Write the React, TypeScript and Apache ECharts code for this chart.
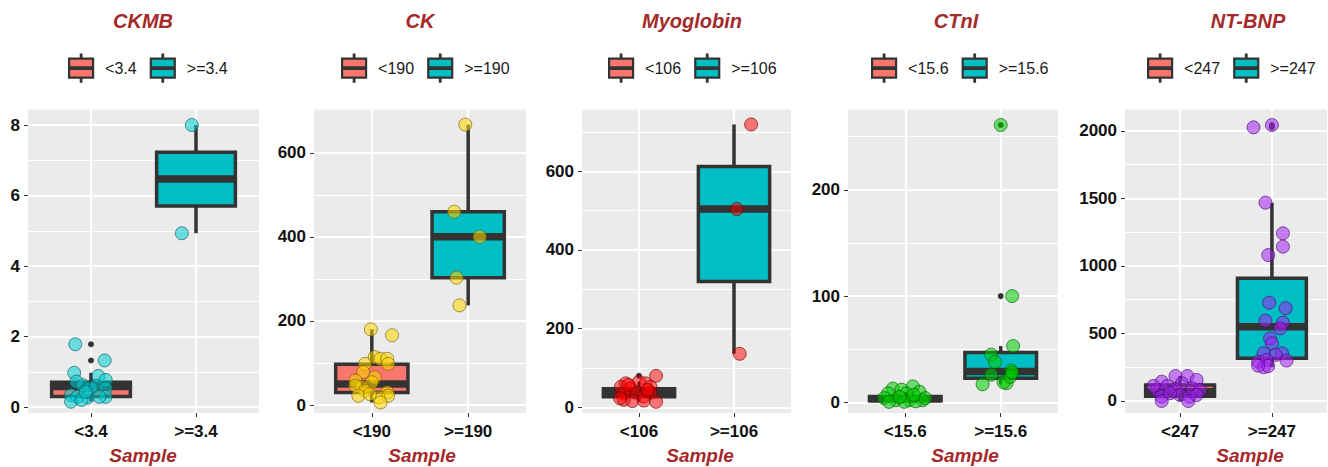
import React, { useEffect, useRef } from 'react';
import * as echarts from 'echarts';

const FONT = '"Liberation Sans", Arial, Helvetica, sans-serif';

// ---------- data ----------
const panelTitles = ['CKMB', 'CK', 'Myoglobin', 'CTnI', 'NT-BNP'];
const axisTitle = 'Sample';

const ckmbGroups = ['<3.4', '>=3.4'];
const ckGroups = ['<190', '>=190'];
const myoGroups = ['<106', '>=106'];
const ctniGroups = ['<15.6', '>=15.6'];
const bnpGroups = ['<247', '>=247'];

// box stats: [lower whisker, Q1, median, Q3, upper whisker]
const ckmbBoxes = [[0.15, 0.30, 0.58, 0.70, 0.97], [4.93, 5.70, 6.47, 7.23, 8.0]];
const ckBoxes = [[6, 30, 50, 97, 180], [237, 303, 400, 460, 667]];
const myoBoxes = [[14, 27, 37, 47, 65], [136, 320, 504, 612, 719]];
const ctniBoxes = [[0.3, 1.5, 3.5, 5.5, 10], [17, 22.75, 29, 47, 53]];
const bnpBoxes = [[0, 35, 68, 118, 185], [250, 316, 550, 909, 1469]];

// boxplot outliers per group
const ckmbOutliers = [[1.32, 1.78], []];
const ckOutliers = [[], []];
const myoOutliers = [[80], []];
const ctniOutliers = [[], [100, 261]];
const bnpOutliers = [[], [2027, 2044]];

// jittered points: [jitter, value]
const ckmbLowPoints = [
  [-0.15, 1.78], [0.13, 1.32], [-0.16, 0.97], [0.07, 0.88], [-0.14, 0.72], [0.14, 0.77],
  [-0.08, 0.62], [-0.01, 0.53], [0.05, 0.6], [0.14, 0.53], [-0.19, 0.34], [-0.13, 0.29],
  [-0.03, 0.27], [0.14, 0.29], [-0.19, 0.15], [-0.09, 0.2], [0.08, 0.29], [-0.05, 0.43],
];
const ckmbHighPoints = [[-0.04, 8.0], [-0.135, 4.93]];

const ckLowPoints = [
  [-0.01, 180], [0.21, 166], [0.03, 114], [0.09, 110], [0.16, 110], [0.17, 98], [-0.07, 98],
  [-0.09, 78], [0.03, 66], [-0.17, 58], [0, 54], [-0.1, 42], [-0.17, 46], [-0.07, 34],
  [0.16, 30], [0.17, 22], [0.07, 18], [0.09, 6], [-0.14, 22], [-0.02, 26],
];
const ckHighPoints = [[-0.03, 667], [-0.145, 460], [0.12, 400], [-0.12, 303], [-0.09, 237]];

const myoLowPoints = [
  [0.18, 80], [-0.14, 61], [0, 65], [0.07, 61], [-0.19, 52], [-0.09, 48], [0.12, 52],
  [-0.03, 37], [0.12, 37], [-0.16, 35], [0.05, 27], [-0.16, 19], [-0.07, 16], [0.05, 17],
  [0.18, 14], [-0.2, 23], [0.09, 44], [-0.11, 57],
];
const myoHighPoints = [[0.18, 719], [0.03, 504], [0.06, 136]];

const ctniLowPoints = [
  [-0.13, 13], [0.08, 15], [-0.04, 12], [-0.18, 8.5], [0.15, 10], [0.01, 8.5], [-0.22, 4],
  [-0.1, 2], [0.04, 2], [0.18, 2], [-0.17, 0.5], [-0.01, 0.5], [0.11, 1], [0.21, 4],
  [-0.06, 5], [0.09, 7],
];
const ctniHighPoints = [
  [0, 261], [0.12, 100], [0.13, 53], [-0.1, 45], [-0.06, 38], [-0.19, 17], [-0.1, 26],
  [0.11, 30], [0.06, 18], [0.03, 19], [0.1, 24], [0.12, 28],
];

const bnpLowPoints = [
  [-0.2, 143], [-0.05, 185], [0.08, 185], [0.18, 156], [-0.14, 111], [0.02, 131], [-0.25, 81],
  [-0.05, 87], [0.13, 94], [0.22, 81], [-0.2, 32], [0, 44], [0.1, 32], [-0.2, 0], [0.09, 0],
  [-0.11, 57], [0.18, 44], [-0.29, 111],
];
const bnpHighPoints = [
  [-0.2, 2027], [0, 2044], [-0.07, 1469], [0.12, 1242], [0.12, 1143], [-0.04, 1081],
  [-0.03, 728], [0.15, 687], [-0.07, 595], [0.12, 580], [0.09, 538], [-0.02, 464],
  [0, 427], [-0.09, 353], [0.11, 353], [0.04, 341], [-0.15, 291], [-0.06, 304],
  [0.16, 299], [-0.09, 250], [-0.04, 258], [-0.15, 262],
];

// y-axis ranges and breaks
const ckmbRange = [-0.17, 8.44];
const ckRange = [-19, 703];
const myoRange = [-14.5, 757];
const ctniRange = [-10, 275.6];
const bnpRange = [-89, 2159];

const ckmbMajor = [0, 2, 4, 6, 8];
const ckmbMinor = [1, 3, 5, 7];
const ckMajor = [0, 200, 400, 600];
const ckMinor = [100, 300, 500];
const myoMajor = [0, 200, 400, 600];
const myoMinor = [100, 300, 500, 700];
const ctniMajor = [0, 100, 200];
const ctniMinor = [50, 150, 250];
const bnpMajor = [0, 500, 1000, 1500, 2000];
const bnpMinor = [250, 750, 1250, 1750];

// ---------- styles / layout ----------
const boxFill = ['#F8766D', '#00BFC4'];
const pointStyles = [
  { fill: 'rgba(0,206,209,0.55)', stroke: 'rgba(0,90,95,0.65)' },
  { fill: 'rgba(255,215,0,0.55)', stroke: 'rgba(120,95,0,0.65)' },
  { fill: 'rgba(255,0,0,0.5)', stroke: 'rgba(110,0,0,0.65)' },
  { fill: 'rgba(0,205,0,0.55)', stroke: 'rgba(0,90,0,0.65)' },
  { fill: 'rgba(160,32,240,0.55)', stroke: 'rgba(70,10,110,0.65)' },
];
const gridLeft = [28, 314, 582, 848, 1125];
const gridWidth = [231, 212, 209, 210, 202];
const gridTop = 109.5;
const gridHeight = 303.5;
const titleX = [143, 420, 692, 956, 1248];
const sampleX = [143, 422, 700, 965, 1250];
const legendX = [68, 341, 608, 871, 1147];

const TITLE_COLOR = '#A52A2A';
const DARK = '#333333';
const keyIcon =
  'path://M0,4h24v19h-24zM11.7,0h0.6v4h-0.6zM11.7,23h0.6v4h-0.6zM0,12.7h24v1.6h-24z';

const panels = [
  { groups: ckmbGroups, boxes: ckmbBoxes, outliers: ckmbOutliers, pts: [ckmbLowPoints, ckmbHighPoints], range: ckmbRange, major: ckmbMajor, minor: ckmbMinor },
  { groups: ckGroups, boxes: ckBoxes, outliers: ckOutliers, pts: [ckLowPoints, ckHighPoints], range: ckRange, major: ckMajor, minor: ckMinor },
  { groups: myoGroups, boxes: myoBoxes, outliers: myoOutliers, pts: [myoLowPoints, myoHighPoints], range: myoRange, major: myoMajor, minor: myoMinor },
  { groups: ctniGroups, boxes: ctniBoxes, outliers: ctniOutliers, pts: [ctniLowPoints, ctniHighPoints], range: ctniRange, major: ctniMajor, minor: ctniMinor },
  { groups: bnpGroups, boxes: bnpBoxes, outliers: bnpOutliers, pts: [bnpLowPoints, bnpHighPoints], range: bnpRange, major: bnpMajor, minor: bnpMinor },
];

const renderBox = (params: any, api: any) => {
  const x = api.value(0);
  const pLow = api.coord([x, api.value(1)]);
  const pQ1 = api.coord([x, api.value(2)]);
  const pMed = api.coord([x, api.value(3)]);
  const pQ3 = api.coord([x, api.value(4)]);
  const pHigh = api.coord([x, api.value(5)]);
  const w = api.size([0.75, 0])[0];
  const cx = pMed[0];
  const fill = api.visual('color');
  return {
    type: 'group',
    children: [
      { type: 'line', shape: { x1: cx, y1: pHigh[1], x2: cx, y2: pQ3[1] }, style: { stroke: DARK, lineWidth: 3.5 } },
      { type: 'line', shape: { x1: cx, y1: pQ1[1], x2: cx, y2: pLow[1] }, style: { stroke: DARK, lineWidth: 3.5 } },
      { type: 'rect', shape: { x: cx - w / 2, y: pQ3[1], width: w, height: pQ1[1] - pQ3[1] }, style: { fill, stroke: DARK, lineWidth: 3.5 } },
      { type: 'line', shape: { x1: cx - w / 2, y1: pMed[1], x2: cx + w / 2, y2: pMed[1] }, style: { stroke: DARK, lineWidth: 7.5 } },
    ],
  };
};

function buildOption() {
  const grid: any[] = [];
  const xAxis: any[] = [];
  const yAxis: any[] = [];
  const series: any[] = [];
  const legend: any[] = [];
  const title: any[] = [];

  panels.forEach((p, i) => {
    grid.push({
      left: gridLeft[i], top: gridTop, width: gridWidth[i], height: gridHeight,
      show: true, backgroundColor: '#EBEBEB', borderWidth: 0, containLabel: false, outerBoundsMode: 'none',
    });
    xAxis.push({
      type: 'value', gridIndex: i, min: -0.6, max: 1.6, position: 'bottom',
      axisLine: { show: false, onZero: false },
      axisTick: { show: true, customValues: [0, 1], length: 4, lineStyle: { color: DARK, width: 1 } },
      axisLabel: {
        customValues: [0, 1], margin: 10,
        formatter: (v: number) => p.groups[Math.round(v)] ?? '',
        fontFamily: FONT, fontSize: 17, fontWeight: 'bold', color: '#111111',
      },
      splitLine: { show: true, lineStyle: { color: '#FFFFFF', width: 2 } },
    });
    yAxis.push({
      type: 'value', gridIndex: i, min: p.range[0], max: p.range[1], position: 'left',
      axisLine: { show: false, onZero: false },
      axisTick: { show: true, customValues: p.major, length: 4, lineStyle: { color: DARK, width: 1 } },
      axisLabel: {
        customValues: p.major, margin: 8,
        formatter: (v: number) => String(v),
        fontFamily: FONT, fontSize: 17, fontWeight: 'bold', color: '#111111',
      },
      splitLine: { show: true, lineStyle: { color: '#FFFFFF', width: 2 } },
    });
    yAxis.push({
      type: 'value', gridIndex: i, min: p.range[0], max: p.range[1], position: 'left',
      axisLine: { show: false, onZero: false },
      axisTick: { show: false, customValues: p.minor },
      axisLabel: { show: false, customValues: p.minor },
      splitLine: { show: true, lineStyle: { color: '#FFFFFF', width: 1 } },
    });

    p.groups.forEach((g, gi) => {
      series.push({
        type: 'custom', name: g, xAxisIndex: i, yAxisIndex: 2 * i, z: 2,
        itemStyle: { color: boxFill[gi] },
        renderItem: renderBox,
        data: [[gi, ...p.boxes[gi]]],
        silent: true,
      });
    });

    const outData: number[][] = [];
    p.outliers.forEach((arr, gi) => arr.forEach((v) => outData.push([gi, v])));
    series.push({
      type: 'scatter', name: `${panelTitles[i]} outliers`, xAxisIndex: i, yAxisIndex: 2 * i, z: 3,
      symbolSize: 6, itemStyle: { color: DARK, opacity: 1 }, data: outData, silent: true,
    });

    const ptData: number[][] = [];
    p.pts.forEach((arr, gi) => arr.forEach(([j, v]) => ptData.push([gi + j, v])));
    series.push({
      type: 'scatter', name: `${panelTitles[i]} points`, xAxisIndex: i, yAxisIndex: 2 * i, z: 4,
      symbolSize: 13,
      itemStyle: { color: pointStyles[i].fill, borderColor: pointStyles[i].stroke, borderWidth: 1, opacity: 1 },
      data: ptData, silent: true,
    });

    legend.push({
      left: legendX[i], top: 53.5, padding: 0, itemWidth: 24, itemHeight: 27, itemGap: 13,
      selectedMode: false, orient: 'horizontal',
      data: p.groups.map((g, gi) => ({
        name: g, icon: keyIcon,
        itemStyle: { color: boxFill[gi], borderColor: DARK, borderWidth: 2.2 },
      })),
      textStyle: { fontFamily: FONT, fontSize: 16, color: '#1a1a1a', padding: [0, 0, 0, 7] },
    });

    title.push({
      text: panelTitles[i], left: titleX[i], top: 11, textAlign: 'center', padding: 0,
      textStyle: { fontFamily: FONT, fontSize: 20, fontWeight: 'bold', fontStyle: 'italic', color: TITLE_COLOR },
    });
    title.push({
      text: axisTitle, left: sampleX[i], top: 446, textAlign: 'center', padding: 0,
      textStyle: { fontFamily: FONT, fontSize: 19, fontWeight: 'bold', fontStyle: 'italic', color: TITLE_COLOR },
    });
  });

  return { animation: false, backgroundColor: '#FFFFFF', title, legend, grid, xAxis, yAxis, series };
}

export default function App() {
  const ref = useRef<HTMLDivElement>(null);
  useEffect(() => {
    if (!ref.current) return;
    const chart = echarts.init(ref.current, undefined, { renderer: 'svg' });
    chart.setOption(buildOption() as any);
    return () => chart.dispose();
  }, []);
  return (
    <div
      ref={ref}
      style={{ position: 'fixed', left: 0, top: 0, width: 1328, height: 467, background: '#fff' }}
    />
  );
}
